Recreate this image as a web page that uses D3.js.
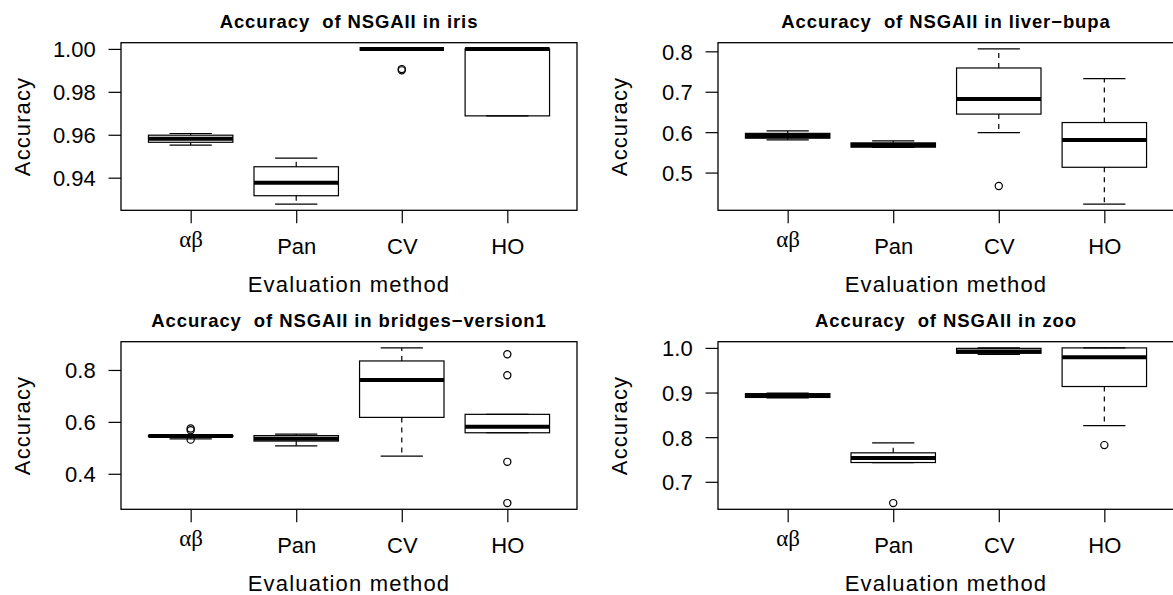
<!DOCTYPE html>
<html>
<head>
<meta charset="utf-8">
<script src="https://cdn.jsdelivr.net/npm/d3@7"></script>
<style>
  html, body { margin: 0; padding: 0; background: #fff; }
  svg { display: block; }
  .pre { white-space: pre; }
</style>
</head>
<body>
<svg id="chart" width="1173" height="595"></svg>
<script>
// ---- data ----
const categories = ["αβ", "Pan", "CV", "HO"];
const panelTitles = [
  "Accuracy  of NSGAII in iris",
  "Accuracy  of NSGAII in liver\u2212bupa",
  "Accuracy  of NSGAII in bridges\u2212version1",
  "Accuracy  of NSGAII in zoo"
];
// stats per category: [lower whisker, Q1, median, Q3, upper whisker]
const irisStats = [
  [0.9552, 0.9565, 0.9582, 0.9598, 0.9606],
  [0.9277, 0.9316, 0.9377, 0.9451, 0.9491],
  [1.0000, 1.0000, 1.0000, 1.0000, 1.0000],
  [0.9688, 0.9688, 1.0000, 1.0000, 1.0000]
];
const irisOutliers = [[], [], [0.9906, 0.9900], []];
const irisTicks = [0.94, 0.96, 0.98, 1.00];

const liverStats = [
  [0.5810, 0.5850, 0.5905, 0.5970, 0.6030],
  [0.5625, 0.5628, 0.5685, 0.5735, 0.5784],
  [0.5990, 0.6447, 0.6818, 0.7588, 0.8060],
  [0.4220, 0.5131, 0.5809, 0.6238, 0.7323]
];
const liverOutliers = [[], [], [0.4667], []];
const liverTicks = [0.5, 0.6, 0.7, 0.8];

const bridgesStats = [
  [0.5345, 0.5440, 0.5455, 0.5470, 0.5470],
  [0.5075, 0.5260, 0.5350, 0.5470, 0.5530],
  [0.4680, 0.6173, 0.7614, 0.8347, 0.8850],
  [0.5580, 0.5580, 0.5810, 0.6290, 0.6290]
];
const bridgesOutliers = [[0.5745, 0.5680, 0.5315], [], [], [0.8605, 0.7795, 0.4460, 0.2870]];
const bridgesTicks = [0.4, 0.6, 0.8];

const zooStats = [
  [0.8880, 0.8890, 0.8930, 0.8975, 0.8990],
  [0.7430, 0.7432, 0.7536, 0.7649, 0.7874],
  [0.9855, 0.9880, 0.9920, 0.9990, 1.0000],
  [0.8257, 0.9135, 0.9789, 1.0000, 1.0000]
];
const zooOutliers = [[], [0.6523], [], [0.7822]];
const zooTicks = [0.7, 0.8, 0.9, 1.0];

const tickFormats = [".2f", ".1f", ".1f", ".1f"];
const xLabel = "Evaluation method";
const yLabel = "Accuracy";

// ---- drawing ----
const panels = [
  {stats: irisStats, outliers: irisOutliers, ticks: irisTicks},
  {stats: liverStats, outliers: liverOutliers, ticks: liverTicks},
  {stats: bridgesStats, outliers: bridgesOutliers, ticks: bridgesTicks},
  {stats: zooStats, outliers: zooOutliers, ticks: zooTicks}
];

const svg = d3.select("#chart");
const sans = "'Liberation Sans', Arial, Helvetica, sans-serif";
const colLeft = [121, 718];
const rowTop = [42.7, 341.7];
const W = 456, H = 167.6;

panels.forEach((p, i) => {
  const L = colLeft[i % 2], T = rowTop[Math.floor(i / 2)];
  const g = svg.append("g");

  const allVals = p.stats.flat().concat(p.outliers.flat());
  const [mn, mx] = d3.extent(allVals);
  const pad = (mx - mn) * 0.04;
  const y = d3.scaleLinear().domain([mn - pad, mx + pad]).range([T + H, T]);
  const x = d3.scalePoint().domain(categories).range([L, L + W]).padding(0.66);
  const bw = x.step() * 0.8;
  const sw = bw * 0.5;

  categories.forEach((c, k) => {
    const s = p.stats[k];
    const cx = x(c);
    g.append("line").attr("x1", cx).attr("x2", cx).attr("y1", y(s[3])).attr("y2", y(s[4]))
      .attr("stroke", "#000").attr("stroke-width", 1.2).attr("stroke-dasharray", "5,5");
    g.append("line").attr("x1", cx).attr("x2", cx).attr("y1", y(s[1])).attr("y2", y(s[0]))
      .attr("stroke", "#000").attr("stroke-width", 1.2).attr("stroke-dasharray", "5,5");
    [s[0], s[4]].forEach(v => {
      g.append("line").attr("x1", cx - sw / 2).attr("x2", cx + sw / 2).attr("y1", y(v)).attr("y2", y(v))
        .attr("stroke", "#000").attr("stroke-width", 1.2);
    });
    g.append("rect").attr("x", cx - bw / 2).attr("width", bw)
      .attr("y", y(s[3])).attr("height", Math.max(0, y(s[1]) - y(s[3])))
      .attr("fill", "none").attr("stroke", "#000").attr("stroke-width", 1.2);
    g.append("line").attr("x1", cx - bw / 2).attr("x2", cx + bw / 2).attr("y1", y(s[2])).attr("y2", y(s[2]))
      .attr("stroke", "#000").attr("stroke-width", 4);
    p.outliers[k].forEach(v => {
      g.append("circle").attr("cx", cx).attr("cy", y(v)).attr("r", 3.6)
        .attr("fill", "none").attr("stroke", "#000").attr("stroke-width", 1.2);
    });
  });

  g.append("rect").attr("x", L).attr("y", T).attr("width", W).attr("height", H)
    .attr("fill", "none").attr("stroke", "#000").attr("stroke-width", 1.3);

  const ya = g.append("g").attr("transform", `translate(${L},0)`)
    .call(d3.axisLeft(y).tickValues(p.ticks).tickFormat(d3.format(tickFormats[i])).tickSize(12.5).tickPadding(12.8));
  ya.select(".domain").remove();
  ya.selectAll("line").attr("stroke", "#000").attr("stroke-width", 1.2);
  ya.selectAll("text").attr("font-family", sans).attr("font-size", 22).attr("fill", "#000").attr("dy", "0.36em");

  const xa = g.append("g").attr("transform", `translate(0,${T + H})`)
    .call(d3.axisBottom(x).tickSize(13).tickPadding(15));
  xa.select(".domain").remove();
  xa.selectAll("line").attr("stroke", "#000").attr("stroke-width", 1.2);
  xa.selectAll("text").attr("font-family", sans).attr("font-size", 22).attr("fill", "#000");
  xa.selectAll("text").filter(d => d === "αβ")
    .attr("font-family", "'Liberation Serif', 'DejaVu Serif', serif")
    .attr("font-size", 23)
    .attr("dy", "0.36em");

  g.append("text").attr("class", "pre").attr("x", L + W / 2).attr("y", T - 14.4)
    .attr("text-anchor", "middle").attr("font-family", sans).attr("font-weight", "bold")
    .attr("font-size", 18.5).attr("letter-spacing", "0.9px").attr("fill", "#000")
    .text(panelTitles[i]);
  g.append("text").attr("x", L + W / 2).attr("y", T + H + 81.4)
    .attr("text-anchor", "middle").attr("font-family", sans)
    .attr("font-size", 22).attr("letter-spacing", "1.2px").attr("fill", "#000")
    .text(xLabel);
  g.append("text").attr("transform", `translate(${L - 91},${T + H / 2}) rotate(-90)`)
    .attr("text-anchor", "middle").attr("font-family", sans)
    .attr("font-size", 22).attr("letter-spacing", "1.1px").attr("fill", "#000")
    .text(yLabel);
});
</script>
</body>
</html>
